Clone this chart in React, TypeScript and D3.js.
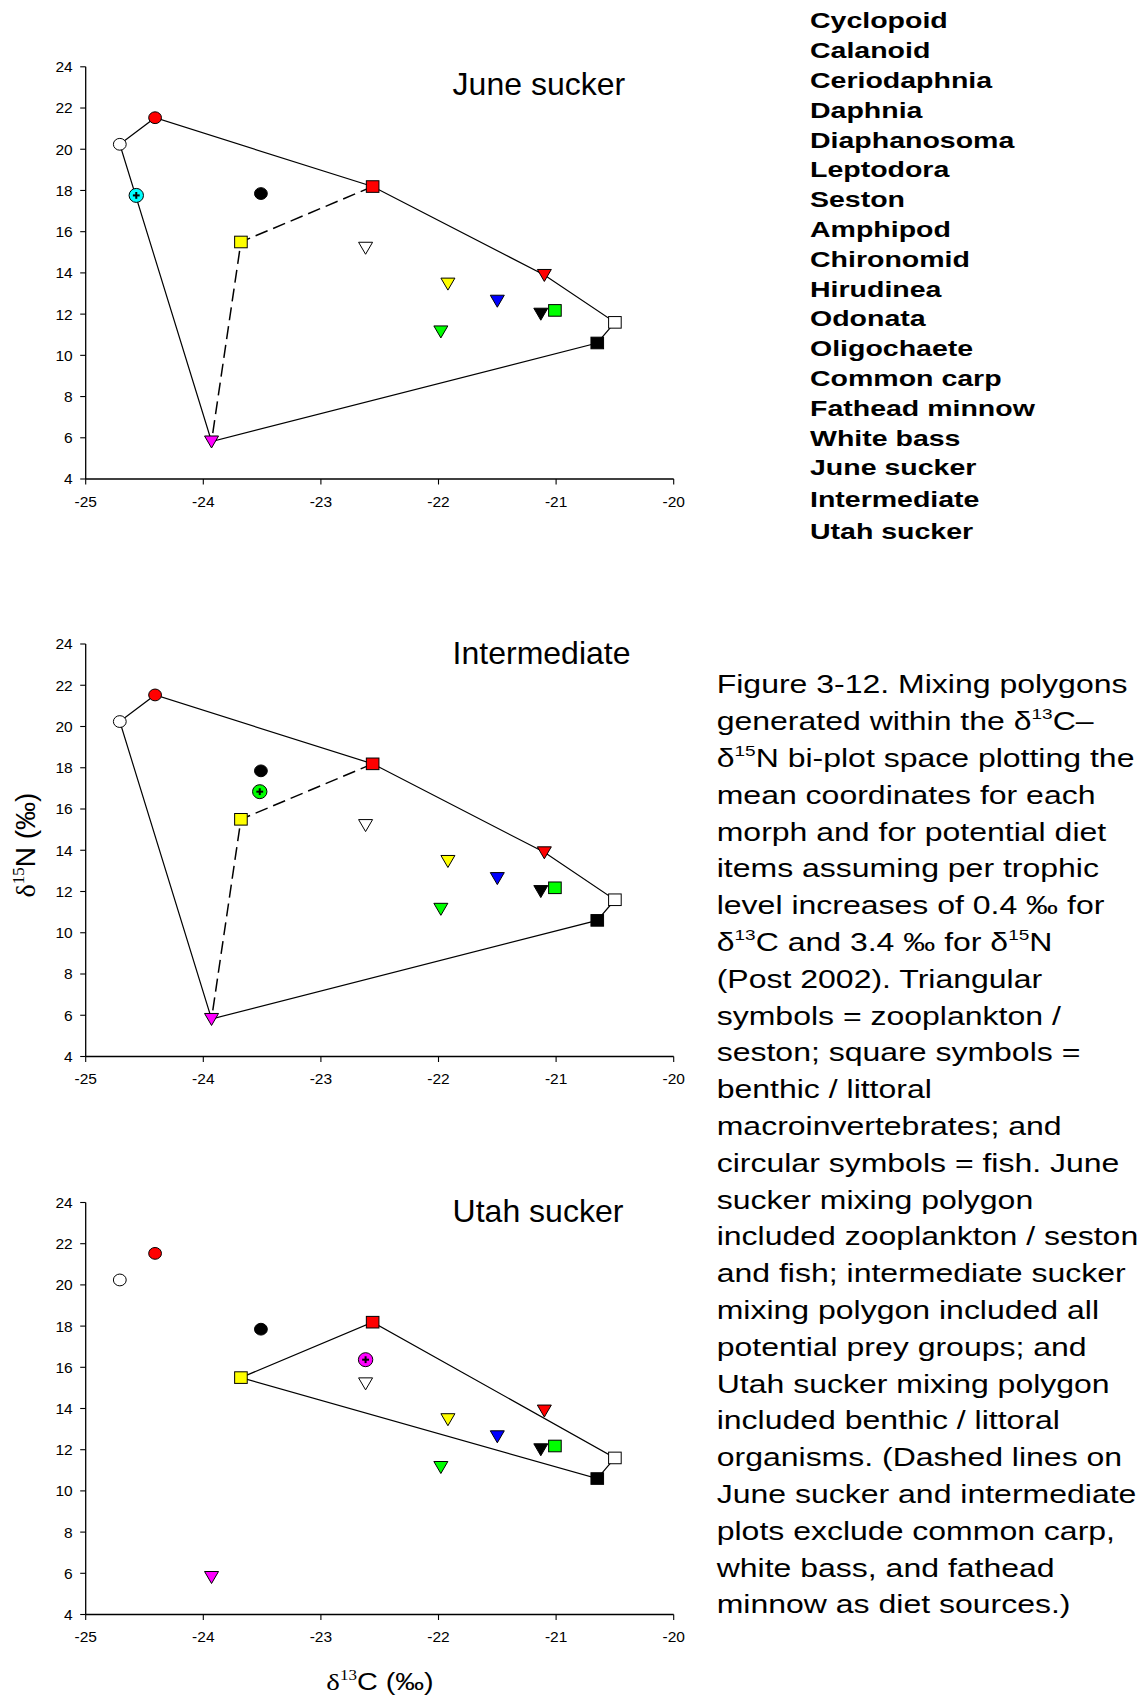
import React from 'react';
import * as d3 from 'd3';

// ---------- data ----------
const xTicks = [-25, -24, -23, -22, -21, -20];
const yTicks = [4, 6, 8, 10, 12, 14, 16, 18, 20, 22, 24];

// zooplankton / seston (down triangles)
const triangleNames = ['Cyclopoid', 'Calanoid', 'Ceriodaphnia', 'Daphnia', 'Diaphanosoma', 'Leptodora', 'Seston'];
const triangleC = [-21.13, -21.1, -21.98, -21.92, -21.5, -22.62, -23.93];
const triangleN = [12.02, 13.9, 11.16, 13.48, 12.65, 15.22, 5.82];
const triangleFill = ['#000000', '#ff0000', '#00ff00', '#ffff00', '#0000ff', '#ffffff', '#ff00ff'];

// benthic / littoral macroinvertebrates (squares)
const squareNames = ['Amphipod', 'Chironomid', 'Hirudinea', 'Odonata', 'Oligochaete'];
const squareC = [-20.65, -20.5, -22.56, -23.68, -21.01];
const squareN = [10.6, 11.6, 18.19, 15.5, 12.18];
const squareFill = ['#000000', '#ffffff', '#ff0000', '#ffff00', '#00ff00'];

// fish (circles)
const fishNames = ['Common carp', 'Fathead minnow', 'White bass'];
const fishC = [-23.51, -24.71, -24.41];
const fishN = [17.85, 20.24, 21.53];
const fishFill = ['#000000', '#ffffff', '#ff0000'];

// sucker morphs (circle with plus), one per panel
const morphNames = ['June sucker', 'Intermediate', 'Utah sucker'];
const morphC = [-24.57, -23.52, -22.62];
const morphN = [17.76, 16.84, 16.37];
const morphFill = ['#00ffff', '#00ff00', '#ff00ff'];

const legendLabels = [...triangleNames, ...squareNames, ...fishNames, ...morphNames];

// mixing polygons (by source name)
const solidPolygons = [
  ['Fathead minnow', 'White bass', 'Hirudinea', 'Calanoid', 'Chironomid', 'Amphipod', 'Seston', 'Fathead minnow'],
  ['Fathead minnow', 'White bass', 'Hirudinea', 'Calanoid', 'Chironomid', 'Amphipod', 'Seston', 'Fathead minnow'],
  ['Odonata', 'Hirudinea', 'Chironomid', 'Amphipod', 'Odonata'],
];
const dashedPolygons = [
  ['Hirudinea', 'Odonata', 'Seston'],
  ['Hirudinea', 'Odonata', 'Seston'],
  [],
];

const captionLines = [
  'Figure 3-12. Mixing polygons',
  'generated within the δ^13C–',
  'δ^15N bi-plot space plotting the',
  'mean coordinates for each',
  'morph and for potential diet',
  'items assuming per trophic',
  'level increases of 0.4 ‰ for',
  'δ^13C and 3.4 ‰ for δ^15N',
  '(Post 2002). Triangular',
  'symbols = zooplankton /',
  'seston; square symbols =',
  'benthic / littoral',
  'macroinvertebrates; and',
  'circular symbols = fish. June',
  'sucker mixing polygon',
  'included zooplankton / seston',
  'and fish; intermediate sucker',
  'mixing polygon included all',
  'potential prey groups; and',
  'Utah sucker mixing polygon',
  'included benthic / littoral',
  'organisms. (Dashed lines on',
  'June sucker and intermediate',
  'plots exclude common carp,',
  'white bass, and fathead',
  'minnow as diet sources.)',
];

// ---------- layout ----------
const W = 1144;
const H = 1697;
const panelY = [
  { top: 66.8, bottom: 479, title: 95 },
  { top: 644, bottom: 1056.5, title: 663.5 },
  { top: 1202.5, bottom: 1614.5, title: 1221.5 },
];
const SANS = 'Arial, "Liberation Sans", sans-serif';
const SERIF = '"Times New Roman", "Liberation Serif", serif';

const x = d3.scaleLinear().domain([-25, -20]).range([85.7, 673.7]);

type Src = { name: string; c: number; n: number; fill: string; shape: string };
const sources: Src[] = [
  ...triangleNames.map((name, i) => ({ name, c: triangleC[i], n: triangleN[i], fill: triangleFill[i], shape: 'tri' })),
  ...squareNames.map((name, i) => ({ name, c: squareC[i], n: squareN[i], fill: squareFill[i], shape: 'sq' })),
  ...fishNames.map((name, i) => ({ name, c: fishC[i], n: fishN[i], fill: fishFill[i], shape: 'circ' })),
];
const byName = new Map(sources.map((s) => [s.name, s]));

function Marker({ s, px, py }: { s: Src; px: number; py: number }) {
  const stroke = '#000';
  if (s.shape === 'tri') {
    const p = `${px - 7},${py - 5.5} ${px + 7},${py - 5.5} ${px},${py + 6.5}`;
    return <polygon points={p} fill={s.fill} stroke={stroke} strokeWidth={1} />;
  }
  if (s.shape === 'sq') {
    return <rect x={px - 6.3} y={py - 5.8} width={12.6} height={11.6} fill={s.fill} stroke={stroke} strokeWidth={1} />;
  }
  return <ellipse cx={px} cy={py} rx={6.4} ry={5.9} fill={s.fill} stroke={stroke} strokeWidth={1} />;
}

function renderRich(str: string, baseSize: number, supSize: number, supDy: number) {
  const parts = str.split(/\^(\d+)/);
  const out: React.ReactNode[] = [];
  let raised = false;
  parts.forEach((p, i) => {
    if (i % 2 === 1) {
      out.push(
        <tspan key={i} fontSize={supSize} dy={-supDy}>
          {p}
        </tspan>
      );
      raised = true;
    } else if (p.length) {
      out.push(
        <tspan key={i} fontSize={baseSize} dy={raised ? supDy : 0}>
          {p}
        </tspan>
      );
      raised = false;
    }
  });
  return out;
}

function Panel({ idx }: { idx: number }) {
  const py = panelY[idx];
  const y = d3.scaleLinear().domain([4, 24]).range([py.bottom, py.top]);
  const line = d3
    .line<Src>()
    .x((d) => x(d.c))
    .y((d) => y(d.n));
  const solid = solidPolygons[idx].map((n) => byName.get(n)!) as Src[];
  const dashed = dashedPolygons[idx].map((n) => byName.get(n)!) as Src[];
  const mx = x(morphC[idx]);
  const my = y(morphN[idx]);
  return (
    <g>
      {/* axes */}
      <line x1={x(-25)} x2={x(-25)} y1={y(4)} y2={y(24)} stroke="#000" strokeWidth={1.3} />
      <line x1={x(-25)} x2={x(-20)} y1={y(4)} y2={y(4)} stroke="#000" strokeWidth={1.3} />
      {yTicks.map((t) => (
        <g key={'y' + t}>
          <line x1={x(-25) - 5.5} x2={x(-25)} y1={y(t)} y2={y(t)} stroke="#000" strokeWidth={1.1} />
          <text x={x(-25) - 13} y={y(t)} dy="0.35em" textAnchor="end" fontFamily={SANS} fontSize={15.5} fill="#000">
            {t}
          </text>
        </g>
      ))}
      {xTicks.map((t) => (
        <g key={'x' + t}>
          <line x1={x(t)} x2={x(t)} y1={y(4)} y2={y(4) + 5.5} stroke="#000" strokeWidth={1.1} />
          <text x={x(t)} y={y(4) + 27.5} textAnchor="middle" fontFamily={SANS} fontSize={15.5} fill="#000">
            {t}
          </text>
        </g>
      ))}
      {/* title */}
      <text x={452.6} y={py.title} fontFamily={SANS} fontSize={32} fill="#000">
        {morphNames[idx]}
      </text>
      {/* polygons */}
      {solid.length > 0 && <path d={line(solid)!} fill="none" stroke="#000" strokeWidth={1.2} />}
      {dashed.length > 0 && (
        <path d={line(dashed)!} fill="none" stroke="#000" strokeWidth={1.5} strokeDasharray="13,6" />
      )}
      {/* source markers */}
      {sources.map((s) => (
        <Marker key={s.name} s={s} px={x(s.c)} py={y(s.n)} />
      ))}
      {/* morph marker */}
      <ellipse cx={mx} cy={my} rx={7.2} ry={7} fill={morphFill[idx]} stroke="#000" strokeWidth={1} />
      <line x1={mx - 3.4} x2={mx + 3.4} y1={my} y2={my} stroke="#000" strokeWidth={2} />
      <line x1={mx} x2={mx} y1={my - 3.4} y2={my + 3.4} stroke="#000" strokeWidth={2} />
    </g>
  );
}

export default function App() {
  const legendBase = (i: number) => 28.3 + i * 29.8 + (i > 15 ? (i - 15) * 1.8 : 0);
  return (
    <div style={{ position: 'absolute', left: 0, top: 0, width: W, height: H, background: '#fff' }}>
      <svg width={W} height={H} viewBox={`0 0 ${W} ${H}`} style={{ display: 'block' }}>
        <rect x={0} y={0} width={W} height={H} fill="#fff" />
        {[0, 1, 2].map((i) => (
          <Panel key={i} idx={i} />
        ))}

        {/* y axis title */}
        <g transform="translate(35,845) rotate(-90)">
          <text textAnchor="middle" fill="#000">
            <tspan fontFamily={SERIF} fontSize={28}>δ</tspan>
            <tspan fontFamily={SERIF} fontSize={17} dy={-11}>15</tspan>
            <tspan fontFamily={SANS} fontSize={28} dy={11}>N (‰)</tspan>
          </text>
        </g>

        {/* x axis title */}
        <g transform="translate(380,1690) scale(1,0.8)">
          <text textAnchor="middle" fill="#000">
            <tspan fontFamily={SERIF} fontSize={28.8}>δ</tspan>
            <tspan fontFamily={SERIF} fontSize={17} dy={-12}>13</tspan>
            <tspan fontFamily={SANS} fontSize={28.8} dy={12}>C (‰)</tspan>
          </text>
        </g>

        {/* legend (text only) */}
        {legendLabels.map((lab, i) => (
          <g key={lab} transform={`translate(810,${legendBase(i)}) scale(1,0.75)`}>
            <text fontFamily={SANS} fontWeight="bold" fontSize={28.5} fill="#000">
              {lab}
            </text>
          </g>
        ))}

        {/* caption */}
        {captionLines.map((ln, i) => (
          <g key={i} transform={`translate(716.7,${693.3 + i * 36.8}) scale(1,0.8)`}>
            <text fontFamily={SANS} fill="#000">
              {renderRich(ln, 32, 19, 14)}
            </text>
          </g>
        ))}
      </svg>
    </div>
  );
}
